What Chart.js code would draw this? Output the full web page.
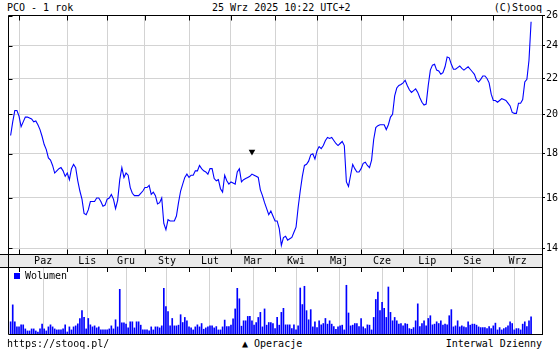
<!DOCTYPE html>
<html><head><meta charset="utf-8">
<script src="https://cdn.jsdelivr.net/npm/chart.js@4.4.1/dist/chart.umd.min.js"></script>
<style>
html,body{margin:0;padding:0;background:#fff;}
body{width:560px;height:350px;position:relative;overflow:hidden;font-family:"DejaVu Sans Mono",monospace;font-size:10px;color:#000;}
.t{position:absolute;white-space:pre;line-height:10px;}
#cp{position:absolute;left:0;top:0;}
#cv{position:absolute;left:0;top:267px;}
.box{position:absolute;left:14px;top:273px;width:6px;height:6px;background:#0000ff;border:0;}
</style></head><body>
<div class="t" style="left:7px;top:3px">PCO - 1 rok</div>
<div class="t" style="left:212px;top:3px">25 Wrz 2025 10:22 UTC+2</div>
<div class="t" style="right:18px;top:3px">(C)Stooq</div>
<canvas id="cp" width="560" height="267"></canvas>
<canvas id="cv" width="560" height="68"></canvas>
<div class="box"></div>
<div class="t" style="left:25px;top:271px">Wolumen</div>
<div class="t" style="left:7px;top:339px">https://stooq.pl/</div>
<div class="t" style="left:242px;top:339px">▲ Operacje</div>
<div class="t" style="right:18px;top:339px">Interwal Dzienny</div>
<script>
// daily closes, session index 0 = 25 Sep 2024 ... 248 = 25 Sep 2025
const close = [
18.9,19.6,20.2,20.2,19.9,19.35,19.6,19.85,19.85,19.8,
19.75,19.6,19.65,19.45,19.2,18.85,18.45,18.2,17.8,17.7,
17.45,17.1,17.2,17.3,17.35,17.2,16.95,17.1,16.8,17.3,
17.5,17.35,16.75,16.3,15.95,15.35,15.3,15.5,15.85,15.85,
15.85,16.0,16.0,15.85,15.65,15.7,15.95,16.0,16.15,15.95,
15.55,15.9,16.8,17.35,16.9,17.1,17.0,16.45,16.2,16.1,
16.1,16.1,16.2,16.3,16.45,16.45,16.55,16.15,16.25,16.1,
15.75,15.8,16.0,14.95,14.7,15.1,15.05,15.05,15.05,15.25,
15.8,16.3,16.6,16.9,17.05,16.9,17.0,17.0,17.2,17.2,
17.45,17.3,17.2,17.15,17.05,17.3,17.3,16.85,16.75,16.8,
16.4,16.25,17.0,16.75,16.6,16.7,16.65,16.6,17.15,17.3,
16.7,16.8,16.85,16.9,16.95,17.05,17.0,16.95,16.9,16.35,
16.1,15.8,15.55,15.3,15.45,15.25,15.05,15.05,14.75,14.1,
14.4,14.45,14.3,14.35,14.4,14.6,14.8,15.6,16.3,16.95,
17.45,17.5,17.65,17.95,18.0,17.75,18.15,18.35,18.25,18.4,
18.65,18.8,18.75,18.8,18.65,18.5,18.4,18.5,18.6,18.4,
16.7,16.5,17.0,17.5,17.3,17.15,17.15,17.3,17.55,17.6,
17.45,17.35,17.7,18.7,19.3,19.4,19.45,19.45,19.45,19.2,
19.45,19.85,20.0,21.0,21.45,21.6,21.65,21.75,21.9,21.6,
21.35,21.2,21.3,21.4,21.2,20.9,20.65,20.5,20.55,21.6,
22.5,22.8,22.85,22.5,22.45,22.25,22.35,22.7,23.3,23.25,
22.85,22.55,22.55,22.65,22.75,22.6,22.5,22.6,22.7,22.55,
22.4,22.25,21.9,21.8,21.95,22.15,22.15,22.0,21.75,21.1,
20.75,20.75,20.65,20.75,20.85,20.8,20.75,20.6,20.45,20.1,
20.05,20.05,20.6,20.6,20.8,21.8,21.95,23.1,25.6
];
// daily volume (relative units)
const volume = [
13,29.7,13,8,8,10,10,6,4,4,
6,6,4,3,6,10.7,6,4,8,10,
8,6,5,5,5,6,10,3,8,5,
8,9,11,16.3,24,17.3,6,16.3,10,8,
9,7,8,5,5,5,5,6,9,6,
15,8,45,12,12,10.7,7,13,13,7,
13,13,9.7,5,5,5,4,8,5,8,
8,7,9,46,28,23,9,16.3,9,9,
9.7,20,12.3,17.3,14,8,7,5,8,10,
8,11.3,5.7,7,8,9,9,7,8.3,5,
5,8,14.7,8.3,8.3,9.7,16,25.7,46,35.7,
8.7,14,14,18.3,18.3,14,9.7,12.3,17.3,22.3,
8,25.7,9.7,12.3,12.3,11.3,6.3,17.3,9.7,22.3,
26.3,10,10,10,6.3,10,5,9,46.3,30,
48,24,15,25,8,13,7.3,14,10,11.3,
16.3,10.7,14,10.7,8.3,5.7,8,9,9.7,5,
49,21.7,9,9.7,11.3,11.3,8.3,16.3,8,6.3,
10,9.7,5,17.3,35,42.3,24,32.3,26.3,17.3,
47.3,22.3,14,17.3,14,10.7,11.3,9,11.3,10.7,
6.3,5.7,7.3,14,30.7,8.3,11.3,14,9,16.3,
19,10,10.7,13,11.3,14,9.7,10.7,10,19,
25,8,9,14,8,9,8,7.3,13,9.7,
10.7,10.7,9.7,8,7.3,7.3,7.3,6.3,8.3,6.3,
9,11.7,5,7.3,5,6.3,7.3,9,13,11.3,
5,6.3,6.3,5,10.7,13,8.3,14,18
];
// first session of each month and month names
const monthStart = [4,27,46,64,85,105,126,146,167,187,210,230];
const monthNames = ['Paz','Lis','Gru','Sty','Lut','Mar','Kwi','Maj','Cze','Lip','Sie','Wrz'];
const yTicks = [14,16,18,20,22,24,26];
// operations marker
const opsIdx = [115];
const opsLevel = [18.1];

const X_MIN = -1.25, X_MAX = 253.2;
const Y_MIN = 13.78, Y_MAX = 26.06;
const FONT = {family:'DejaVu Sans Mono', size:10, lineHeight:1.2};
const GRID = '#d3d3d3', BAND = '#eaeaea', BLUE = '#0000ff';
const monthMid = monthStart.map((m,i)=> (m + (i+1<monthStart.length ? monthStart[i+1] : X_MAX))/2);

const px = v => Math.round(v) + 0.5;

const pricePlugin = {
  id:'priceFrame',
  beforeDraw(c){
    const ctx=c.ctx, a=c.chartArea;
    ctx.save(); ctx.fillStyle=BAND;
    ctx.fillRect(0, a.bottom, a.right, c.height - a.bottom);
    ctx.restore();
  },
  afterDraw(c){
    const ctx=c.ctx, a=c.chartArea, xs=c.scales.x, ys=c.scales.y;
    ctx.save(); ctx.strokeStyle='#000'; ctx.lineWidth=1;
    ctx.beginPath();
    const L=px(a.left), R=px(a.right), T=px(a.top), B=px(a.bottom);
    ctx.moveTo(L,T); ctx.lineTo(R,T); ctx.lineTo(R,c.height); ctx.moveTo(L,T); ctx.lineTo(L,c.height);
    ctx.moveTo(0,B); ctx.lineTo(R,B);
    monthStart.forEach(m=>{ const x=px(xs.getPixelForValue(m)); ctx.moveTo(x,T); ctx.lineTo(x,T+5); ctx.moveTo(x,B); ctx.lineTo(x,B-5); });
    yTicks.forEach(v=>{ const y=px(ys.getPixelForValue(v)); ctx.moveTo(L,y); ctx.lineTo(L+4,y); });
    ctx.stroke(); ctx.restore();
  }
};
const volPlugin = {
  id:'volFrame',
  afterDraw(c){
    const ctx=c.ctx, a=c.chartArea, xs=c.scales.x;
    ctx.save(); ctx.strokeStyle='#000'; ctx.lineWidth=1;
    const L=px(a.left), R=px(a.right), T=0.5, B=px(a.bottom-1);
    ctx.beginPath();
    ctx.moveTo(0,T); ctx.lineTo(R,T); ctx.moveTo(L,0); ctx.lineTo(L,B); ctx.lineTo(R,B); ctx.moveTo(R,0); ctx.lineTo(R,c.height);
    monthStart.forEach(m=>{ const x=px(xs.getPixelForValue(m)); ctx.moveTo(x,0); ctx.lineTo(x,5); });
    ctx.stroke(); ctx.restore();
  }
};

Chart.defaults.font.family = 'DejaVu Sans Mono';
Chart.defaults.animation = false;

new Chart(document.getElementById('cp'), {
  type:'line',
  data:{datasets:[
    {data: close.map((v,i)=>({x:i,y:v})), borderColor:BLUE, borderWidth:1.1, pointRadius:0, tension:0, fill:false},
    {data: opsIdx.map((v,i)=>({x:v,y:opsLevel[i]})), showLine:false, pointStyle:'triangle', rotation:180, pointRadius:3.8, backgroundColor:'#000', borderColor:'#000', borderWidth:0}
  ]},
  options:{
    responsive:false, devicePixelRatio:1, animation:false,
    layout:{padding:{left:8, top:15, right:0, bottom:0}},
    plugins:{legend:{display:false}, tooltip:{enabled:false}},
    scales:{
      x:{type:'linear', position:'bottom', min:X_MIN, max:X_MAX,
         afterBuildTicks:s=>{ s.ticks = monthStart.map(v=>({value:v})); },
         afterFit:s=>{ s.height=0; },
         ticks:{display:false}, grid:{color:GRID, lineWidth:1, drawTicks:false}, border:{display:false}},
      xm:{type:'linear', position:'bottom', min:X_MIN, max:X_MAX,
         afterBuildTicks:s=>{ s.ticks = monthMid.map(v=>({value:v})); },
         afterFit:s=>{ s.height=13; },
         ticks:{autoSkip:false, maxRotation:0, minRotation:0, padding:1, color:'#000', font:FONT,
                callback:(v,i)=>monthNames[i]},
         grid:{display:false, drawTicks:false, tickLength:0}, border:{display:false}},
      y:{type:'logarithmic', position:'right', min:Y_MIN, max:Y_MAX,
         afterBuildTicks:s=>{ s.ticks = yTicks.map(v=>({value:v})); },
         afterFit:s=>{ s.width=18; },
         ticks:{color:'#000', font:FONT, padding:1, callback:v=>String(v)},
         grid:{color:GRID, lineWidth:1, drawTicks:true, tickLength:3, tickColor:'#000'},
         border:{display:false}}
    }
  },
  plugins:[pricePlugin]
});

new Chart(document.getElementById('cv'), {
  type:'bar',
  data:{datasets:[{data: volume.map((v,i)=>({x:i,y:v})), backgroundColor:BLUE, borderWidth:0, barThickness:1}]},
  options:{
    responsive:false, devicePixelRatio:1, animation:false,
    layout:{padding:{left:8, top:0, right:18, bottom:0}},
    plugins:{legend:{display:false}, tooltip:{enabled:false}},
    scales:{
      x:{type:'linear', min:X_MIN, max:X_MAX, offset:false,
         afterBuildTicks:s=>{ s.ticks = monthStart.map(v=>({value:v})); },
         afterFit:s=>{ s.height=0; },
         ticks:{display:false}, grid:{color:GRID, lineWidth:1, drawTicks:false}, border:{display:false}},
      y:{display:false, min:0, max:67, grid:{display:false}}
    }
  },
  plugins:[volPlugin]
});
</script>
</body></html>
